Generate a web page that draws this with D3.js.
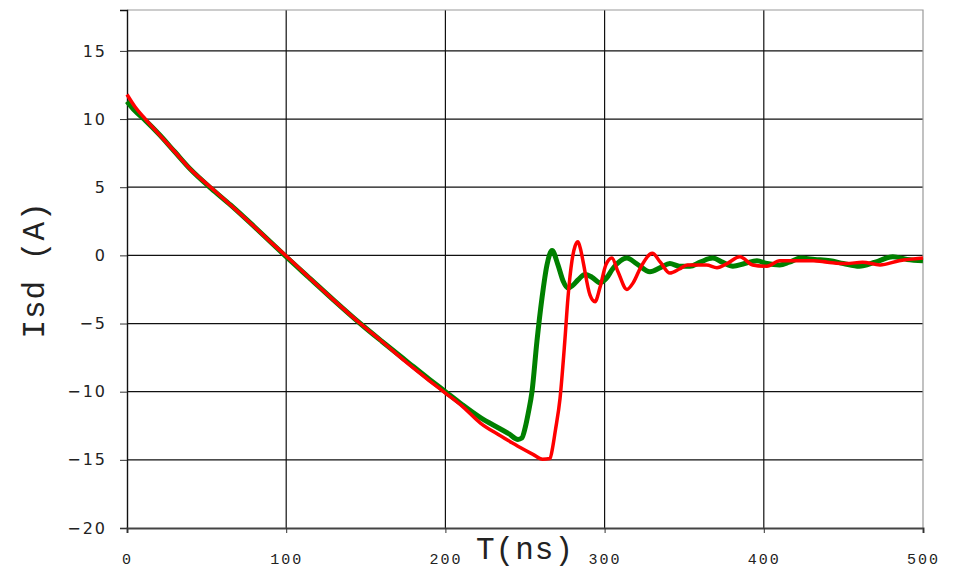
<!DOCTYPE html>
<html>
<head>
<meta charset="utf-8">
<script src="https://cdn.jsdelivr.net/npm/d3@7"></script>
<style>
	body { margin: 0; background: #fff; }
	svg { display: block; }
</style>
</head>
<body>
<svg class="figure" width="956" height="573"></svg>
<script>
'use strict' ;

// time (ns) and current (A)
let greenTime = [ 0, 5, 11.5, 20, 30, 40, 53, 65, 80, 90, 100, 115, 130, 146.5, 160, 175, 190, 200, 210, 222, 234, 240, 245.6, 248, 250, 252, 254.4, 257.5, 260.7, 263.8, 267, 270.7, 274, 277, 280, 283.3, 287.7, 292, 297, 301, 305, 310, 314, 320, 328.5, 335, 341, 347, 353.6, 360, 368, 374, 380.6, 388, 395.7, 402, 410, 416, 423, 432, 441.6, 450, 460, 470, 481, 490, 500 ] ;
let greenIsd = [ 11.3, 10.6, 9.9, 8.9, 7.6, 6.3, 4.9, 3.7, 2.1, 1.0, -0.1, -1.7, -3.3, -5.0, -6.3, -7.7, -9.1, -10.0, -10.9, -11.9, -12.7, -13.1, -13.5, -13.4, -12.7, -11.6, -10.0, -6.3, -3.1, -0.7, 0.35, -0.7, -1.9, -2.4, -2.2, -1.8, -1.4, -1.6, -2.0, -1.7, -1.0, -0.4, -0.2, -0.6, -1.2, -0.9, -0.6, -0.8, -0.8, -0.5, -0.2, -0.5, -0.8, -0.6, -0.4, -0.6, -0.7, -0.5, -0.2, -0.3, -0.4, -0.6, -0.8, -0.5, -0.1, -0.3, -0.4 ] ;

let redTime = [ 0, 5, 11.5, 20, 30, 40, 53, 65, 80, 90, 100, 115, 130, 146.5, 160, 175, 190, 200, 210, 222, 234, 242.6, 247, 255, 261, 265.7, 267.5, 269, 272, 275, 277, 279.5, 281.5, 283.3, 285, 286.4, 290.8, 294, 297, 300.8, 304.6, 308.4, 314, 318, 323, 330, 335, 341, 347, 352, 358, 364, 370.6, 377, 385, 393, 402, 410, 420, 431, 440, 452, 462, 473, 485, 500 ] ;
let redIsd = [ 11.8, 10.9, 10.0, 8.9, 7.6, 6.3, 4.95, 3.7, 2.1, 1.0, -0.05, -1.7, -3.3, -5.0, -6.3, -7.8, -9.2, -10.1, -11.0, -12.3, -13.2, -13.8, -14.1, -14.6, -14.95, -14.9, -14.0, -12.9, -10.5, -6.3, -3.1, -0.4, 0.7, 1.0, 0.4, -0.4, -2.9, -3.4, -2.4, -0.7, -0.2, -1.2, -2.5, -2.0, -0.8, 0.15, -0.5, -1.3, -1.0, -0.7, -0.7, -0.7, -0.9, -0.6, -0.1, -0.7, -0.8, -0.4, -0.4, -0.4, -0.5, -0.6, -0.5, -0.7, -0.4, -0.2 ] ;

let xTicks = [ 0, 100, 200, 300, 400, 500 ] ;
let yTicks = [ -20, -15, -10, -5, 0, 5, 10, 15 ] ;

let geom = {
	width: 956,
	height: 573,
	margin: { top: 10, right: 33, bottom: 45, left: 127 }
} ;

let svg = d3.select( 'svg.figure' ) ;
let plot = {
	left: geom.margin.left,
	right: geom.width - geom.margin.right,
	top: geom.margin.top,
	bottom: geom.height - geom.margin.bottom
} ;

let x = d3.scaleLinear().domain( [ 0, 500 ] ).range( [ plot.left, plot.right ] ) ;
let y = d3.scaleLinear().domain( [ -20, 18 ] ).range( [ plot.bottom, plot.top ] ) ;

// grid
svg.append( 'g' )
	.selectAll( 'line' )
	.data( yTicks.filter( d => d > -20 ) )
	.enter()
	.append( 'line' )
	.attr( 'x1', plot.left ).attr( 'x2', plot.right )
	.attr( 'y1', d => y(d) ).attr( 'y2', d => y(d) )
	.attr( 'stroke', '#111' )
	.attr( 'stroke-width', 1.2 ) ;
svg.append( 'g' )
	.selectAll( 'line' )
	.data( xTicks.filter( d => d > 0 && d < 500 ) )
	.enter()
	.append( 'line' )
	.attr( 'x1', d => x(d) ).attr( 'x2', d => x(d) )
	.attr( 'y1', plot.top ).attr( 'y2', plot.bottom )
	.attr( 'stroke', '#111' )
	.attr( 'stroke-width', 1.2 ) ;

// frame: grey top/right, dark left/bottom
svg.append( 'path' )
	.attr( 'd', 'M' + plot.left + ',' + plot.top + 'H' + plot.right + 'V' + plot.bottom )
	.attr( 'fill', 'none' )
	.attr( 'stroke', '#999' )
	.attr( 'stroke-width', 1.2 ) ;

// y axis
let yAxis = svg.append( 'g' )
	.attr( 'transform', 'translate(' + plot.left + ',0)' )
	.call( d3.axisLeft( y ).tickValues( yTicks ).tickSize( 7 ).tickPadding( 13 ).tickFormat( d => d < 0 ? '\u2212' + Math.abs( d ) : d ) ) ;
yAxis.select( '.domain' ).attr( 'stroke', '#111' ).attr( 'stroke-width', 1.4 ) ;
yAxis.selectAll( '.tick line' ).attr( 'stroke', '#333' ) ;
yAxis.selectAll( '.tick text' )
	.attr( 'font-family', 'DejaVu Sans' )
	.attr( 'font-size', '16px' )
	.attr( 'letter-spacing', '2px' )
	.attr( 'fill', '#222' ) ;

// x axis
let xAxis = svg.append( 'g' )
	.attr( 'transform', 'translate(0,' + plot.bottom + ')' )
	.call( d3.axisBottom( x ).tickValues( xTicks ).tickSize( 5 ).tickPadding( 20 ) ) ;
xAxis.select( '.domain' ).attr( 'stroke', '#444' ).attr( 'stroke-width', 2 ) ;
xAxis.selectAll( '.tick line' ).attr( 'stroke', '#333' ) ;
xAxis.selectAll( '.tick text' )
	.attr( 'font-family', 'Liberation Mono' )
	.attr( 'font-size', '15px' )
	.attr( 'letter-spacing', '2px' )
	.attr( 'fill', '#222' ) ;

// traces
let line = d3.line()
	.x( d => x( d[0] ) )
	.y( d => y( d[1] ) )
	.curve( d3.curveMonotoneX ) ;

svg.append( 'path' )
	.datum( d3.zip( greenTime, greenIsd ) )
	.attr( 'd', line )
	.attr( 'fill', 'none' )
	.attr( 'stroke', '#008000' )
	.attr( 'stroke-width', 5 )
	.attr( 'stroke-linejoin', 'round' ) ;

svg.append( 'path' )
	.datum( d3.zip( redTime, redIsd ) )
	.attr( 'd', line )
	.attr( 'fill', 'none' )
	.attr( 'stroke', '#ff0000' )
	.attr( 'stroke-width', 3.5 )
	.attr( 'stroke-linejoin', 'round' ) ;

// axis titles
svg.append( 'text' )
	.attr( 'x', 525 )
	.attr( 'y', 559 )
	.attr( 'text-anchor', 'middle' )
	.attr( 'font-family', 'Courier New, Liberation Mono, monospace' )
	.attr( 'font-size', '31px' )
	.attr( 'letter-spacing', '1px' )
	.attr( 'fill', '#222' )
	.text( 'T(ns)' ) ;

svg.append( 'text' )
	.attr( 'transform', 'translate(44,270) rotate(-90)' )
	.attr( 'text-anchor', 'middle' )
	.attr( 'font-family', 'Courier New, Liberation Mono, monospace' )
	.attr( 'font-size', '31px' )
	.attr( 'letter-spacing', '1px' )
	.attr( 'fill', '#222' )
	.text( 'Isd (A)' ) ;
</script>
</body>
</html>
